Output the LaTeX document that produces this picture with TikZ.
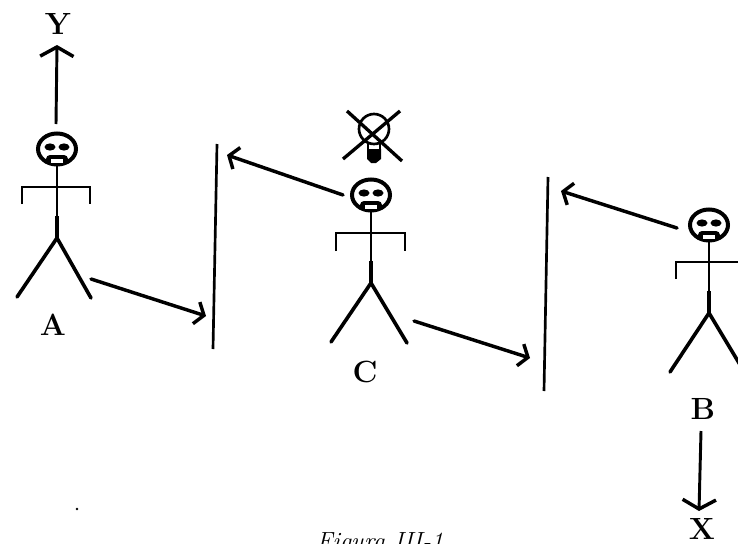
\documentclass[tikz,border=0pt]{standalone}
\usetikzlibrary{arrows.meta}
\tikzset{
  ink/.style={line width=2.5pt,black},
  thin ink/.style={line width=2pt,black},
  force/.style={line width=2.6pt,black,line cap=round,-{Straight Barb[length=6pt,width=17pt,line width=2.6pt]}},
  wide force/.style={line width=2.2pt,black,-{Straight Barb[length=7pt,width=25pt,line width=2.6pt]}},
  letter/.style={font=\fontsize{23}{23}\selectfont\bfseries,inner sep=0pt,text=black},
  pics/person/.style n args={3}{code={
    % #1 hips below head centre, #2 left leg x, #3 right leg x
    \draw[line width=3pt] (0,0) ellipse [x radius=19,y radius=15.5];
    \fill (-7,-2) ellipse [x radius=5.5,y radius=3.6];
    \fill (7,-2) ellipse [x radius=5.5,y radius=3.6];
    \fill[rounded corners=3pt] (-11,15) -- (-11,6) -- (11,6) -- (11,15) -- cycle;
    \fill[white] (-6,14) rectangle (6,9.5);
    \draw[thin ink] (0,16) -- (0,#1);
    \draw[line width=3pt] (0,#1-22) -- (0,#1);
    \draw[line width=2.7pt,line cap=round,line join=miter] (#2,#1+59) -- (0,#1) -- (#3,#1+60);
  }}
}
\begin{document}
\begin{tikzpicture}[x=0.75pt,y=-0.75pt]
\useasboundingbox (0,0) rectangle (738,543);
\clip (0,0) rectangle (738,543);

% named points
\coordinate (yfrom) at (56,124);
\coordinate (yto) at (57,45);
\coordinate (xfrom) at (701,431);
\coordinate (xto) at (699,511);
\coordinate (wa1) at (217,144);
\coordinate (wa2) at (213,349);
\coordinate (wb1) at (548,177);
\coordinate (wb2) at (544,391);
\coordinate (af) at (91,279);
\coordinate (at) at (206,316);
\coordinate (ct1) at (343,195);
\coordinate (tt1) at (227,155);
\coordinate (cf) at (414,321);
\coordinate (ct) at (530,358);
\coordinate (bf) at (677,228);
\coordinate (bt) at (561,191);

% person A
\pic at (57,149) {person={89}{-40}{34}};
\draw[thin ink] (22,204) -- (22,187) -- (90,187) -- (90,204);
% person C
\pic at (371,195) {person={88}{-40}{36}};
\draw[thin ink] (336,251) -- (336,233) -- (405,233) -- (405,251);
% person B
\pic at (709,225) {person={88}{-39}{36}};
\draw[thin ink] (676,279) -- (676,262) -- (738,262);

% walls
\draw[thin ink] (wa1) -- (wa2);
\draw[thin ink] (wb1) -- (wb2);

% arrows
\draw[wide force] (yfrom) -- (yto);
\draw[wide force] (xfrom) -- (xto);
\draw[force] (af) -- (at);
\draw[force] (ct1) -- (tt1);
\draw[force] (cf) -- (ct);
\draw[force] (bf) -- (bt);

% light bulb, crossed out
\draw[thin ink] (374,129) circle [radius=15];
\draw[thin ink] (368,143) -- (368,150) (380,143) -- (380,150);
\fill (367,149) -- (381,149) -- (381,159) -- (376,163) -- (371,163) -- (367,159) -- cycle;
\draw[ink] (347,111) -- (402,161);
\draw[ink] (400,111) -- (343,159);

% labels
\node[letter] (ly) at (58,24) {Y};
\node[letter] (la) at (53,325) {A};
\node[letter] (lc) at (365,372) {C};
\node[letter] (lb) at (703,409) {B};
\node[letter] (lx) at (702,529) {X};
\node[inner sep=0pt,font=\fontsize{18.6}{18.6}\selectfont\itshape,anchor=base] (cap) at (380,549) {Figura III-1};
\fill (77,509) circle [radius=1.4];
\end{tikzpicture}
\end{document}
